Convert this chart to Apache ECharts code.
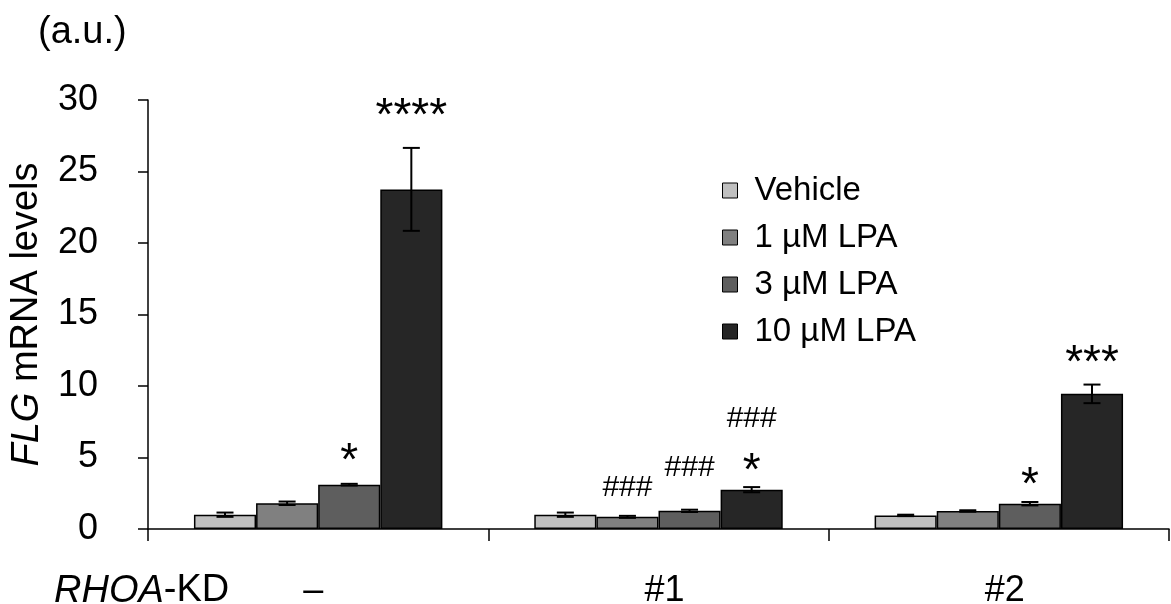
<!DOCTYPE html>
<html>
<head>
<meta charset="utf-8">
<script src="https://cdn.jsdelivr.net/npm/echarts@6/dist/echarts.min.js"></script>
<style>
  html, body { margin: 0; padding: 0; background: #fff; }
  #chart { width: 1171px; height: 604px; }
</style>
</head>
<body>
<div id="chart"></div>
<script>
// RHOA knock-down groups along the x axis
const categories = ['–', '#1', '#2'];
const seriesNames = ['Vehicle', '1 µM LPA', '3 µM LPA', '10 µM LPA'];

// FLG mRNA levels (a.u.), one value per group
const vehicle = [1.0, 1.0, 0.95];
const lpa1 = [1.8, 0.85, 1.26];
const lpa3 = [3.1, 1.27, 1.77];
const lpa10 = [23.75, 2.75, 9.45];

// error (± SE) per group
const vehicleErr = [0.15, 0.15, 0.05];
const lpa1Err = [0.12, 0.07, 0.05];
const lpa3Err = [0.06, 0.08, 0.12];
const lpa10Err = [2.9, 0.18, 0.65];

// y axis range
const yMin = 0;
const yMax = 30;
const yStep = 5;

// significance marks: [group, series, level on the y scale, text]
const marks = [
  [0, 2, 5.3, '*'],
  [0, 3, 29.4, '****'],
  [1, 1, 2.87, '###'],
  [1, 2, 4.27, '###'],
  [1, 3, 4.62, '*'],
  [1, 3, 7.69, '###'],
  [2, 2, 3.64, '*'],
  [2, 3, 12.17, '***']
];

const values = [vehicle, lpa1, lpa3, lpa10];
const errors = [vehicleErr, lpa1Err, lpa3Err, lpa10Err];
const colors = ['#c0c0c0', '#808080', '#5e5e5e', '#262626'];
const FONT = '"Liberation Sans", Arial, sans-serif';
const CAT_GAP = 0.27;
const N = seriesNames.length;

function barCenter(api, cat, s) {
  const band = api.size([1, 0])[0];
  const bw = band * (1 - CAT_GAP) / N;
  return api.coord([cat, 0])[0] + (s - (N - 1) / 2) * bw;
}

const errData = [];
values.forEach((arr, s) => arr.forEach((v, c) => errData.push([c, v, errors[s][c], s])));

const barSeries = seriesNames.map((name, s) => ({
  name,
  type: 'bar',
  data: values[s],
  barGap: '0%',
  barCategoryGap: (CAT_GAP * 100) + '%',
  itemStyle: { color: colors[s], borderColor: '#000', borderWidth: 1.5 },
  emphasis: { disabled: true },
  z: 2
}));

const chart = echarts.init(document.getElementById('chart'), null, { renderer: 'canvas' });

chart.setOption({
  backgroundColor: '#fff',
  animation: false,
  grid: { left: 148, right: 2, top: 100, bottom: 75, containLabel: false, outerBoundsMode: 'none' },
  legend: {
    orient: 'vertical',
    left: 717,
    top: 169,
    itemWidth: 15,
    itemHeight: 15,
    itemGap: 14,
    icon: 'rect',
    selectedMode: false,
    data: seriesNames,
    itemStyle: { borderColor: '#000', borderWidth: 1 },
    textStyle: { fontSize: 33, fontFamily: FONT, color: '#000', lineHeight: 33, padding: [0, 0, 0, 12] }
  },
  xAxis: {
    type: 'category',
    data: categories,
    axisLine: { lineStyle: { color: '#000', width: 1.5 } },
    axisTick: { show: true, interval: 0, alignWithLabel: false, length: 12, lineStyle: { color: '#000', width: 1.5 } },
    axisLabel: {
      fontSize: 36, fontFamily: FONT, color: '#000', margin: 44, interval: 0,
      formatter: (v) => (v === '–' ? '{d|' + v + '}' : '{n|' + v + '}'),
      rich: {
        d: { fontSize: 36, fontFamily: FONT, color: '#000', padding: [0, 10, 0, 0] },
        n: { fontSize: 36, fontFamily: FONT, color: '#000', padding: [0, 0, 0, 12] }
      }
    }
  },
  yAxis: {
    type: 'value',
    min: yMin,
    max: yMax,
    interval: yStep,
    splitLine: { show: false },
    axisLine: { show: true, lineStyle: { color: '#000', width: 1.5 } },
    axisTick: { show: true, length: 10, lineStyle: { color: '#000', width: 1.5 } },
    axisLabel: { fontSize: 36, fontFamily: FONT, color: '#000', margin: 50 },
    name: '{i|FLG} mRNA levels',
    nameLocation: 'middle',
    nameRotate: 90,
    nameGap: 102,
    nameTextStyle: {
      fontSize: 38, fontFamily: FONT, color: '#000',
      rich: { i: { fontSize: 38, fontFamily: FONT, fontStyle: 'italic', color: '#000' } }
    }
  },
  graphic: [
    {
      type: 'text', left: 38, top: 14,
      style: { text: '(a.u.)', fontSize: 38, fontFamily: FONT, fill: '#000' }
    },
    {
      type: 'text', left: 54, top: 572,
      style: {
        text: '{i|RHOA}-KD',
        fontSize: 38, fontFamily: FONT, fill: '#000',
        rich: { i: { fontSize: 38, fontFamily: FONT, fontStyle: 'italic', fill: '#000' } }
      }
    }
  ],
  series: [
    ...barSeries,
    {
      type: 'custom',
      name: 'error',
      data: errData,
      encode: { x: 0, y: 1 },
      z: 5,
      silent: true,
      renderItem(params, api) {
        const c = api.value(0), v = api.value(1), e = api.value(2), s = api.value(3);
        const cx = barCenter(api, c, s);
        const top = api.coord([c, v + e])[1];
        const bot = api.coord([c, v - e])[1];
        const cap = 8.5;
        const st = { stroke: '#000', lineWidth: 2 };
        return {
          type: 'group',
          children: [
            { type: 'line', shape: { x1: cx, y1: top, x2: cx, y2: bot }, style: st },
            { type: 'line', shape: { x1: cx - cap, y1: top, x2: cx + cap, y2: top }, style: st },
            { type: 'line', shape: { x1: cx - cap, y1: bot, x2: cx + cap, y2: bot }, style: st }
          ]
        };
      }
    },
    {
      type: 'custom',
      name: 'marks',
      data: marks.map(m => [m[0], m[2], m[1]]),
      encode: { x: 0, y: 1 },
      z: 6,
      silent: true,
      renderItem(params, api) {
        const c = api.value(0), y = api.value(1), s = api.value(2);
        const text = marks[params.dataIndex][3];
        const star = text.charAt(0) === '*';
        const size = star ? 46 : 30;
        const cx = barCenter(api, c, s);
        const cy = api.coord([c, y])[1] + (star ? size * 0.2 : 0);
        return {
          type: 'text',
          x: cx, y: cy,
          style: {
            text, fontSize: size, fontFamily: FONT, fill: '#000',
            align: 'center', verticalAlign: 'middle'
          }
        };
      }
    }
  ]
});
</script>
</body>
</html>
